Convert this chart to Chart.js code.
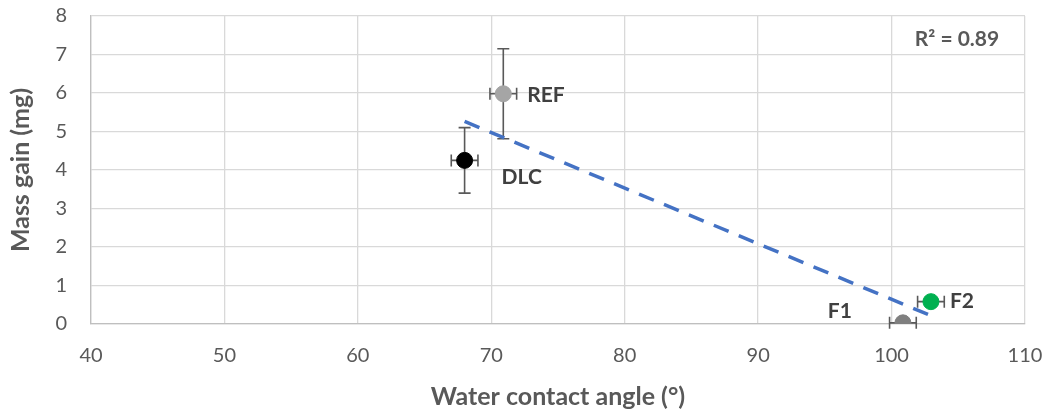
<!DOCTYPE html>
<html>
<head>
<meta charset="utf-8">
<script src="https://cdn.jsdelivr.net/npm/chart.js@4/dist/chart.umd.min.js"></script>
<style>
  html, body { margin: 0; padding: 0; background: #fff; }
  #wrap { width: 1050px; height: 412px; }
</style>
</head>
<body>
<div id="wrap"><canvas id="grafico"></canvas></div>
<script>
// Muestras y sus valores medidos
const muestras = ['REF', 'DLC', 'F1', 'F2'];
const angulo = [70.9, 68, 100.85, 102.95];  // ángulo de contacto (°)
const anguloErr = [1, 1, 1, 1];
const masa = [5.98, 4.25, 0.03, 0.58];      // ganancia de masa (mg)
const masaErr = [1.17, 0.85, 0, 0];
const coloresPunto = ['#a5a5a5', '#000000', '#7f7f7f', '#00b050'];
const ticksX = [40, 50, 60, 70, 80, 90, 100, 110];
const ticksY = [0, 1, 2, 3, 4, 5, 6, 7, 8];

// Desplazamiento de las etiquetas respecto al punto (px)
const offsetEtiqueta = {
  REF: { dx: 24, dy: 1, align: 'left' },
  DLC: { dx: 37, dy: 17, align: 'left' },
  F1: { dx: -51, dy: -12, align: 'right' },
  F2: { dx: 19, dy: 0, align: 'left' }
};

// Regresión lineal para la línea de tendencia
function regresion(xs, ys) {
  const n = xs.length;
  const mx = xs.reduce((a, b) => a + b, 0) / n;
  const my = ys.reduce((a, b) => a + b, 0) / n;
  let sxx = 0, sxy = 0, syy = 0;
  for (let i = 0; i < n; i++) {
    sxx += (xs[i] - mx) ** 2;
    sxy += (xs[i] - mx) * (ys[i] - my);
    syy += (ys[i] - my) ** 2;
  }
  const m = sxy / sxx;
  return { m: m, b: my - m * mx, r2: (sxy * sxy) / (sxx * syy) };
}
const ajuste = regresion(angulo, masa);
const xMin = Math.min(...angulo), xMax = Math.max(...angulo);
const tendencia = [
  { x: xMin, y: ajuste.m * xMin + ajuste.b },
  { x: xMax, y: ajuste.m * xMax + ajuste.b }
];

const FUENTE = 'Lato, "Open Sans", sans-serif';
const GRIS = '#595959';

// Barras de error y etiquetas de cada muestra
const pluginErrores = {
  id: 'errores',
  beforeDatasetsDraw(chart) {
    const ctx = chart.ctx;
    const sx = chart.scales.x, sy = chart.scales.y;
    ctx.save();
    ctx.strokeStyle = GRIS;
    ctx.lineWidth = 1.6;
    const cap = 6;
    muestras.forEach((m, i) => {
      const px = sx.getPixelForValue(angulo[i]);
      const py = sy.getPixelForValue(masa[i]);
      if (masaErr[i] > 0) {
        const y1 = sy.getPixelForValue(masa[i] + masaErr[i]);
        const y2 = sy.getPixelForValue(masa[i] - masaErr[i]);
        ctx.beginPath();
        ctx.moveTo(px, y1); ctx.lineTo(px, y2);
        ctx.moveTo(px - cap, y1); ctx.lineTo(px + cap, y1);
        ctx.moveTo(px - cap, y2); ctx.lineTo(px + cap, y2);
        ctx.stroke();
      }
      if (anguloErr[i] > 0) {
        const x1 = sx.getPixelForValue(angulo[i] - anguloErr[i]);
        const x2 = sx.getPixelForValue(angulo[i] + anguloErr[i]);
        ctx.beginPath();
        ctx.moveTo(x1, py); ctx.lineTo(x2, py);
        ctx.moveTo(x1, py - cap); ctx.lineTo(x1, py + cap);
        ctx.moveTo(x2, py - cap); ctx.lineTo(x2, py + cap);
        ctx.stroke();
      }
    });
    ctx.restore();
  },
  afterDatasetsDraw(chart) {
    const ctx = chart.ctx;
    const sx = chart.scales.x, sy = chart.scales.y;
    ctx.save();
    ctx.fillStyle = '#404040';
    ctx.font = 'bold 21px ' + FUENTE;
    ctx.textBaseline = 'middle';
    muestras.forEach((m, i) => {
      const o = offsetEtiqueta[m];
      ctx.textAlign = o.align;
      ctx.fillText(m, sx.getPixelForValue(angulo[i]) + o.dx, sy.getPixelForValue(masa[i]) + o.dy);
    });
    // R² de la línea de tendencia
    ctx.fillStyle = GRIS;
    ctx.textAlign = 'center';
    ctx.font = 'bold 21px ' + FUENTE;
    ctx.fillText('R² = ' + ajuste.r2.toFixed(2), 957, 39);
    ctx.restore();
  }
};

new Chart(document.getElementById('grafico'), {
  type: 'scatter',
  data: {
    datasets: [
      {
        label: 'Muestras',
        data: angulo.map((a, i) => ({ x: a, y: masa[i] })),
        backgroundColor: coloresPunto,
        borderColor: coloresPunto,
        pointRadius: 8,
        pointHoverRadius: 8,
        order: 1
      },
      {
        label: 'Tendencia',
        type: 'line',
        data: tendencia,
        borderColor: '#4472c4',
        borderWidth: 3.5,
        borderDash: [16, 11],
        pointRadius: 0,
        fill: false,
        order: 2
      }
    ]
  },
  options: {
    responsive: true,
    maintainAspectRatio: false,
    animation: false,
    layout: { padding: 0 },
    plugins: {
      legend: { display: false },
      tooltip: { enabled: false }
    },
    scales: {
      x: {
        type: 'linear',
        min: 40, max: 110,
        afterBuildTicks: s => { s.ticks = ticksX.map(v => ({ value: v })); },
        afterFit: s => { s.height = 88; s.paddingLeft = 0; s.paddingRight = 25; },
        grid: { color: '#d9d9d9', lineWidth: 1.3, drawTicks: false },
        border: { color: '#bfbfbf', width: 1.3 },
        ticks: { color: GRIS, font: { family: FUENTE, size: 20 }, padding: 20 },
        title: {
          display: true,
          text: 'Water contact angle (°)',
          color: GRIS,
          font: { family: FUENTE, size: 25, weight: 'bold' },
          padding: { top: 0, bottom: 0 }
        }
      },
      y: {
        min: 0, max: 8,
        afterBuildTicks: s => { s.ticks = ticksY.map(v => ({ value: v })); },
        afterFit: s => { s.width = 91; s.paddingTop = 16; s.paddingBottom = 0; },
        grid: { color: '#d9d9d9', lineWidth: 1.3, drawTicks: false },
        border: { color: '#bfbfbf', width: 1.3 },
        ticks: { color: GRIS, font: { family: FUENTE, size: 20 }, padding: 24 },
        title: {
          display: true,
          text: 'Mass gain (mg)',
          color: GRIS,
          font: { family: FUENTE, size: 25, weight: 'bold' },
          padding: { top: 6, bottom: 0 }
        }
      }
    }
  },
  plugins: [pluginErrores]
});
</script>
</body>
</html>
